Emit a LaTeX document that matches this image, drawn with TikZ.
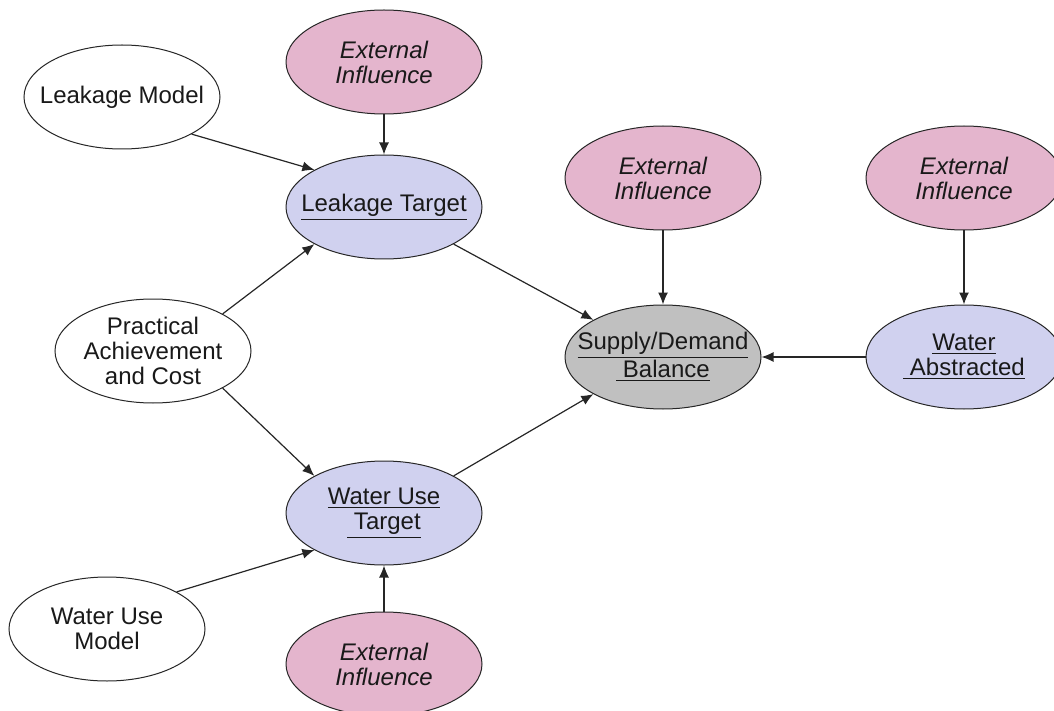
\documentclass[tikz,border=0pt]{standalone}
\usepackage{fontspec}
\setmainfont{Liberation Sans}
\usetikzlibrary{arrows.meta,positioning,shapes.geometric}
\definecolor{extpink}{HTML}{E4B5CD}
\definecolor{targetblue}{HTML}{D0D1EF}
\definecolor{balgrey}{HTML}{C0C0C0}
\tikzset{
  bn/node/.style={draw=black!85, ellipse, line width=0.5pt, inner xsep=-30pt, inner ysep=-3pt, minimum width=98pt, minimum height=52pt, align=center, text=black!90, font=\fontsize{12}{12.5}\selectfont},
  bn/model/.style={bn/node, fill=white},
  bn/ext/.style={bn/node, fill=extpink, font=\fontsize{12}{12.5}\selectfont\itshape},
  bn/target/.style={bn/node, fill=targetblue},
  bn/balance/.style={bn/node, fill=balgrey},
  arr/.style={-{Latex[length=6pt,width=5pt]}, line width=0.6pt, draw=black!85}
}
\begin{document}
\begin{tikzpicture}[on grid]
\useasboundingbox (0,0) rectangle (527pt,-355.5pt);

\node[bn/target] (lt) at (192pt,-103.5pt) {\underline{Leakage Target}};
\node[bn/ext, above=72.5pt of lt] (ext1) {External\\Influence};
\node[bn/model, above left=55pt and 131pt of lt] (lm) {Leakage Model};
\node[bn/model, below left=72pt and 115.5pt of lt] (pac) {Practical\\Achievement\\and Cost};

\node[bn/target, below=153pt of lt] (wut) {\underline{Water Use}\\\underline{~Target}};
\node[bn/model, below left=58pt and 138.5pt of wut] (wum) {Water Use\\Model};
\node[bn/ext, below=75.5pt of wut] (ext4) {External\\Influence};

\node[bn/balance, below right=75pt and 139.5pt of lt] (sdb) {\underline{Supply/Demand}\\\underline{~Balance}};
\node[bn/ext, above=89.5pt of sdb] (ext2) {External\\Influence};
\node[bn/target, right=150.5pt of sdb] (wa) {\underline{Water}\\\underline{~Abstracted}};
\node[bn/ext, above=89.5pt of wa] (ext3) {External\\Influence};

\draw[arr] (ext1) -- (lt);
\draw[arr] (lm.south east) -- (lt.north west);
\draw[arr] (pac.north east) -- (lt.south west);
\draw[arr] (pac.south east) -- (wut.north west);
\draw[arr] (wum.north east) -- (wut.south west);
\draw[arr] (ext4) -- (wut);

\draw[arr] (lt.south east) -- (sdb.north west);
\draw[arr] (wut.north east) -- (sdb.south west);
\draw[arr] (ext2) -- (sdb);
\draw[arr] (ext3) -- (wa);
\draw[arr] (wa) -- (sdb);
\end{tikzpicture}
\end{document}
